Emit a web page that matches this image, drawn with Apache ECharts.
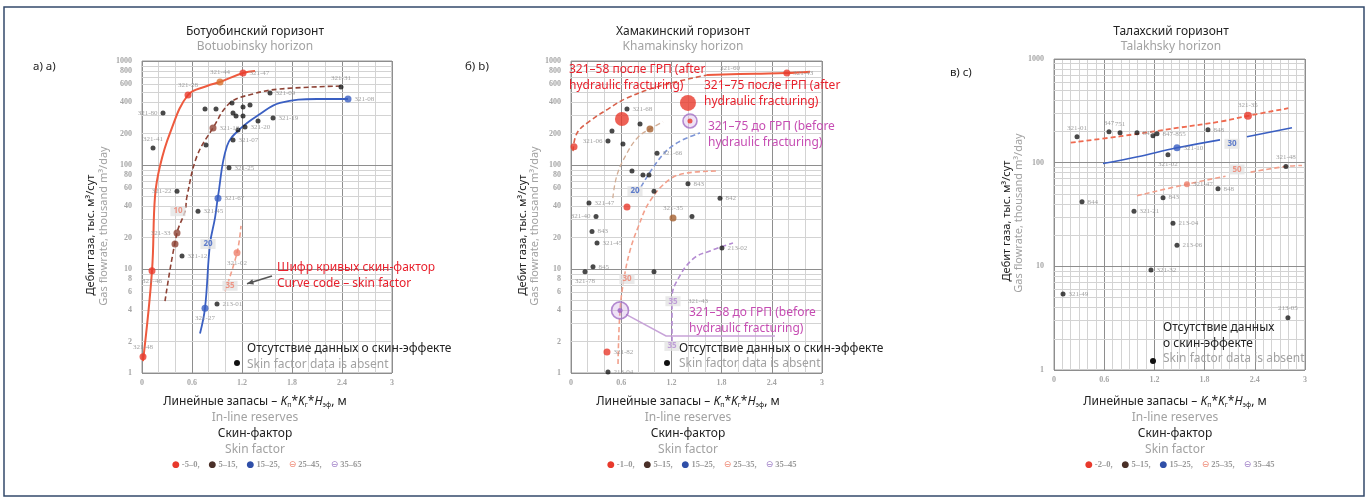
<!DOCTYPE html>
<html lang="ru">
<head>
<meta charset="utf-8">
<title>Дебит газа и линейные запасы</title>
<script src="https://cdn.jsdelivr.net/npm/echarts@6.0.0/dist/echarts.min.js"></script>
<style>
html,body{margin:0;padding:0;background:#fff;}
#chart{width:1368px;height:502px;}
</style>
</head>
<body>
<div id="chart"></div>
<script>
// ---------- shared axis definitions ----------
const xTickLabels = [0, 0.6, 1.2, 1.8, 2.4, 3];
const yGridLines = [1,2,3,4,5,6,7,8,9,10,20,30,40,50,60,70,80,90,100,200,300,400,500,600,700,800,900,1000];
const yDecades = [1, 10, 100, 1000];
const yLabelsDense = [1,2,4,6,8,10,20,40,60,80,100,200,400,600,800,1000];
const yLabelsSparse = [1, 10, 100, 1000];

// ---------- Ботуобинский горизонт ----------
const botCurveRed = [[0.012,1.3],[0.12,9.6],[0.156,50],[0.216,98],[0.336,203],[0.552,471],[0.78,575],[0.936,628],[1.212,767],[1.356,801]];
const botCurveBrown = [[0.276,4.9],[0.42,22.2],[0.516,36],[0.54,50],[0.66,122],[0.852,227],[1.056,395],[1.332,482],[1.656,538],[2.412,575]];
const botCurveBlue = [[0.696,2.4],[0.756,4.2],[0.816,17.4],[0.876,31],[0.912,50],[1.02,152],[1.176,222],[1.416,309],[1.656,395],[2.1,431],[2.472,431]];
const botCurveSalmon = [[0.996,6.1],[1.14,14.3],[1.188,26]];
const botWells = [
  [0.252,316,'321-80'],[0.132,146,'321-41'],[0.756,345,''],[0.888,345,''],[1.08,395,''],
  [1.212,361,''],[1.296,378,''],[1.092,316,''],[1.128,296,''],[1.212,296,''],
  [1.536,493,'321-09'],[1.572,283,'321-19'],[1.392,265,''],[1.236,232,'321-20'],[1.152,217,''],
  [1.092,174,'321-07'],[0.768,156,''],[1.044,94,'321-25'],[0.42,56,'321-22'],[0.672,36,'321-45'],
  [0.48,13.3,'321-12'],[0.9,4.6,'213-01'],[2.388,562,'321-31']
];
const botRedPts = [[1.212,767,'321-47'],[0.552,471,'321-28'],[0.12,9.6,'321-46'],[0.012,1.43,'321-48']];
const botOrangePts = [[0.936,628,'321-44']];
const botBrownPts = [[0.852,227,'321-16'],[0.42,22.2,'321-33'],[0.396,17.4,'']];
const botBluePts = [[0.912,48,'321-67'],[0.756,4.2,'321-27'],[2.472,431,'321-08']];
const botSalmonPts = [[1.14,14.3,'321-02']];
const botCodes = [[0.432,36,'10'],[0.792,17.4,'20'],[1.056,6.9,'35']];

// ---------- Хамакинский горизонт ----------
const khaCurveRedDashed = [[0.024,136],[0.072,203],[0.227,265],[0.442,345],[0.669,441],[1.064,575],[1.626,733]];
const khaCurveRedSolid = [[1.626,733],[2.2,755],[2.58,767],[2.856,790]];
const khaCurveSalmon = [[0.562,1.22],[0.586,4.0],[0.633,8],[0.705,15],[0.8,25],[0.944,45],[1.183,73],[1.4,84],[1.745,87.5]];
const khaCurveBlue = [[0.789,53],[1.064,117],[1.267,163],[1.542,203]];
const khaCurveBrown = [[0.5,48],[0.55,80],[0.669,130],[0.8,185],[0.944,222],[1.1,260]];
const khaCurvePurple = [[1.207,2.0],[1.207,5.3],[1.267,7.7],[1.458,12.5],[1.661,14.9],[1.936,17.8]];
const khaWells = [
  [0.669,345,'321-68'],[0.825,248,''],[0.49,212,''],[0.442,170,'321-06'],[0.621,159,''],
  [1.028,130,'321-66'],[0.729,87.5,''],[0.86,80,''],[0.932,80,''],[0.992,56,''],
  [0.215,43,'321-47'],[1.781,48,'842'],[1.398,66,'843'],[0.299,32,'321-40'],[0.251,23,'843'],
  [0.311,17.8,'321-45'],[0.263,10.5,'845'],[0.167,9.4,'321-78'],[0.992,9.4,''],[1.446,32,''],
  [1.804,15.9,'213-02'],[0.442,1.02,'213-04']
];
const khaRedPts = [[2.58,767,'321-43'],[0.669,39.5,''],[0.43,1.59,'321-82'],[0.036,150,'']];
const khaFracPts = [[0.609,277],[1.398,395]];          // после ГРП
const khaBeforePts = [[1.422,265],[0.586,4.0]];         // до ГРП
const khaBrownPts = [[0.944,222,''],[1.219,31,'321-35']];
const khaCodes = [[0.765,56,'20'],[0.669,8,'30'],[1.219,4.9,'35'],[1.207,1.82,'35']];
const khaFreeLabels = [[1.9,857,'321-60'],[1.518,4.9,'321-43']];

// ---------- Талахский горизонт ----------
const talCurveRed = [[0.2,156],[0.8,180],[1.5,218],[2.0,250],[2.318,283],[2.8,335]];
const talCurveBlueA = [[0.586,98],[1.0,114],[1.47,139],[1.984,166]];
const talCurveBlueB = [[2.306,178],[2.844,217]];
const talCurveSalmonA = [[0.992,48],[1.589,62],[2.05,74]];
const talCurveSalmonB = [[2.35,81],[2.772,92],[2.964,94]];
const talWells = [
  [0.275,178,'321-01'],[0.657,199,'847'],[0.789,194,'751'],[0.992,194,'845'],[1.183,182,''],
  [1.231,190,'847-855'],[1.84,208,'848'],[1.362,119,'321-02'],[2.772,92,'321-48'],[1.96,56,'848'],
  [0.335,42,'844'],[1.303,46,'843'],[0.956,34,'321-21'],[1.422,26,'213-04'],[1.47,16,'213-06'],
  [1.159,9.2,'321-32'],[0.108,5.4,'321-49'],[2.796,3.2,'213-05']
];
const talRedPts = [[2.318,283,'321-35']];
const talBluePts = [[1.47,139,'321-10']];
const talSalmonPts = [[1.589,62,'321-47']];
const talCodes = [[2.127,152,'30'],[2.187,86,'50']];

// ---------- text ----------
const panelTitles = ['Ботуобинский горизонт', 'Хамакинский горизонт', 'Талахский горизонт'];
const panelTitlesEn = ['Botuobinsky horizon', 'Khamakinsky horizon', 'Talakhsky horizon'];
const panelTags = ['а) a)', 'б) b)', 'в) c)'];
const skinLegends = [
  [['-5–0','r'],['5–15','k'],['15–25','b'],['25–45','s'],['35–65','p']],
  [['-1–0','r'],['5–15','k'],['15–25','b'],['25–35','s'],['35–45','p']],
  [['-2–0','r'],['5–15','k'],['15–25','b'],['25–35','s'],['35–45','p']]
];

// ---------- styles ----------
const FONT = '"Noto Sans", "DejaVu Sans", sans-serif';
const WELL_FONT = '"Liberation Serif", serif';
const COL = {
  red: '#e8392c', redLine: '#ee5a3e', brown: '#8e4336', blue: '#3a5fc2',
  salmon: '#f2a08c', salmonText: '#ee7e6a', purple: '#b48bd2', magenta: '#c64db3',
  annRed: '#e8202c', dark: '#222222', gray: '#a2a2a2', well: '#1c1c1c'
};
const GRIDS = [
  { left: 142, top: 61, width: 250, height: 312 },
  { left: 571, top: 61, width: 251, height: 312 },
  { left: 1054, top: 59, width: 251, height: 311 }
];
const labelSide = {
  '321-80':'left','321-41':'top','321-22':'left','321-27':'bottom','321-33':'left','321-28':'top',
  '321-44':'top','321-31':'top','321-46':'bottom','321-47':'right','321-40':'left','321-78':'bottom',
  '321-06':'left','213-05':'top','321-48':'top','321-60':'top','321-01':'top','847':'top','751':'top',
  '847-855':'right','321-35':'top','321-02':'bottom','321-68':'right','321-45':'right'
};

function curve(g, pts, color, dashed, width) {
  return { type: 'line', xAxisIndex: g, yAxisIndex: g, data: pts, smooth: 0.4, symbol: 'none',
    silent: true, z: 3, lineStyle: { color, width: width || 1.6, type: dashed ? [5, 3] : 'solid' } };
}
function points(g, rows, color, size, extra) {
  return Object.assign({
    type: 'scatter', xAxisIndex: g, yAxisIndex: g, symbol: 'circle', symbolSize: size, silent: true, z: 5,
    itemStyle: { color },
    data: rows.map(r => ({ value: [r[0], r[1]], name: r[2] || '', label: { position: labelSide[r[2]] || 'right' } })),
    label: { show: true, formatter: '{b}', fontSize: 7, color: '#8a8a8a', fontFamily: WELL_FONT, distance: 3 }
  }, extra || {});
}
function codes(g, rows, colors) {
  return { type: 'scatter', xAxisIndex: g, yAxisIndex: g, symbolSize: 0, silent: true, z: 6,
    data: rows.map((r, i) => ({ value: [r[0], r[1]], name: r[2], label: { color: colors[i] } })),
    label: { show: true, position: 'inside', formatter: '{b}', fontSize: 8, fontWeight: 'bold', fontFamily: FONT,
      backgroundColor: 'rgba(226,226,226,0.95)', padding: [1, 3] } };
}
function freeLabels(g, rows) {
  return { type: 'scatter', xAxisIndex: g, yAxisIndex: g, symbolSize: 0, silent: true, z: 6,
    data: rows.map(r => ({ value: [r[0], r[1]], name: r[2] })),
    label: { show: true, position: 'inside', formatter: '{b}', fontSize: 7, color: '#8a8a8a', fontFamily: WELL_FONT } };
}
function gridLines(g, labelled) {
  return { type: 'line', xAxisIndex: g, yAxisIndex: g, data: [[0, 1]], symbol: 'none', silent: true,
    lineStyle: { opacity: 0 }, z: 1,
    markLine: { silent: true, symbol: ['none', 'none'], animation: false, z: 1,
      data: yGridLines.map(v => ({
        yAxis: v,
        lineStyle: { type: 'solid', width: 1, color: yDecades.includes(v) ? '#8e8e8e' : '#d3d3d3' },
        label: labelled.includes(v)
          ? { show: true, position: 'start', formatter: String(v), color: '#a6a6a6', fontSize: 8,
              fontWeight: 'bold', fontFamily: WELL_FONT, distance: 10 }
          : { show: false }
      })) } };
}

const xAxes = GRIDS.map((g, i) => ({
  type: 'value', gridIndex: i, min: 0, max: 3, interval: 0.6,
  axisLine: { show: false }, axisTick: { show: false },
  axisLabel: { color: '#a6a6a6', fontSize: 8, fontWeight: 'bold', fontFamily: WELL_FONT, margin: 6,
    formatter: v => { const t = xTickLabels.find(k => Math.abs(k - v) < 1e-6); return t === undefined ? '' : String(t); } },
  splitLine: { show: true, lineStyle: { color: '#8e8e8e', width: 1 } },
  minorTick: { show: false, splitNumber: i === 2 ? 6 : 3 },
  minorSplitLine: { show: true, lineStyle: { color: '#d3d3d3', width: 1 } }
}));
const yAxes = GRIDS.map((g, i) => ({
  type: 'log', gridIndex: i, logBase: 10, min: 1, max: 1000,
  axisLine: { show: false }, axisTick: { show: false }, axisLabel: { show: false }, splitLine: { show: false }
}));

const series = [
  gridLines(0, yLabelsDense), gridLines(1, yLabelsDense), gridLines(2, yLabelsSparse),

  curve(0, botCurveRed, COL.redLine, false, 2),
  curve(0, botCurveBrown, COL.brown, true),
  curve(0, botCurveBlue, COL.blue, false, 1.8),
  curve(0, botCurveSalmon, COL.salmon, true),
  points(0, botWells, COL.well, 5),
  points(0, botRedPts, COL.red, 7),
  points(0, botOrangePts, '#d9722f', 7),
  points(0, botBrownPts, COL.brown, 7),
  points(0, botBluePts, COL.blue, 7),
  points(0, botSalmonPts, COL.salmonText, 7),
  codes(0, botCodes, [COL.salmonText, COL.blue, COL.salmonText]),

  curve(1, khaCurveRedDashed, '#d9604a', true),
  curve(1, khaCurveRedSolid, COL.redLine, false, 2),
  curve(1, khaCurveSalmon, COL.salmon, true),
  curve(1, khaCurveBlue, '#7d95d6', true),
  curve(1, khaCurveBrown, '#d2ad95', true, 1.3),
  curve(1, khaCurvePurple, COL.purple, true),
  points(1, khaWells, COL.well, 5),
  points(1, khaRedPts, COL.red, 7),
  points(1, khaBrownPts, '#a5602f', 7),
  { type: 'scatter', xAxisIndex: 1, yAxisIndex: 1, data: khaBeforePts, symbol: 'circle', silent: true, z: 5,
    symbolSize: (v, p) => p.dataIndex === 0 ? 14 : 17,
    itemStyle: { color: 'rgba(196,150,222,0.35)', borderColor: '#a36fc6', borderWidth: 1.6 } },
  { type: 'scatter', xAxisIndex: 1, yAxisIndex: 1, data: khaBeforePts, symbol: 'circle', symbolSize: 5, silent: true, z: 6,
    itemStyle: { color: p => p.dataIndex === 0 ? COL.red : '#9b5cc0' } },
  { type: 'scatter', xAxisIndex: 1, yAxisIndex: 1, data: khaFracPts, symbol: 'circle', silent: true, z: 6,
    symbolSize: (v, p) => p.dataIndex === 0 ? 14 : 16, itemStyle: { color: COL.red } },
  codes(1, khaCodes, [COL.blue, COL.salmonText, COL.purple, COL.purple]),
  freeLabels(1, khaFreeLabels),

  curve(2, talCurveRed, '#ef6a50', true, 1.8),
  curve(2, talCurveBlueA, COL.blue, false, 1.6),
  curve(2, talCurveBlueB, COL.blue, false, 1.6),
  curve(2, talCurveSalmonA, COL.salmon, true),
  curve(2, talCurveSalmonB, COL.salmon, true),
  points(2, talWells, COL.well, 5),
  points(2, talRedPts, COL.red, 8),
  points(2, talBluePts, COL.blue, 7),
  points(2, talSalmonPts, COL.salmonText, 6),
  codes(2, talCodes, [COL.blue, COL.salmonText])
];

const chart = echarts.init(document.getElementById('chart'));
chart.setOption({
  animation: false,
  backgroundColor: '#ffffff',
  grid: GRIDS.map(g => Object.assign({ show: true, borderColor: '#9a9a9a', borderWidth: 1, backgroundColor: '#ffffff' }, g)),
  xAxis: xAxes,
  yAxis: yAxes,
  series
});

// ---------- text layer ----------
function text(x, y, str, opt) {
  return { type: 'text', x, y, silent: true, z: 20,
    style: Object.assign({ text: str, fill: COL.dark, fontSize: 12, fontFamily: FONT, align: 'left', verticalAlign: 'middle' }, opt || {}) };
}
const titleCx = [255, 683, 1171];
const axisCx = [255, 688, 1175];
const yTitle = [[91, 235, 104, 226], [523, 235, 535, 226], [1007, 221, 1019, 213]];
const tagPos = [[33, 67], [465, 67], [950, 73]];
const legendLeft = [172, 607, 1085];

const iconStyle = (c) => ({ fill: c, fontSize: 9, fontFamily: '"DejaVu Sans"', padding: [0, 2, 0, 0] });
const richLegend = {
  r: iconStyle(COL.red),
  k: iconStyle('#4a3028'),
  b: iconStyle('#2f4fa8'),
  s: iconStyle('#ef8a76'),
  p: iconStyle('#a080c8'),
  t: { fill: '#9a9a9a', fontSize: 8.5, fontFamily: WELL_FONT, fontWeight: 'bold' },
  c: { fill: '#9a9a9a', fontSize: 8.5, fontFamily: WELL_FONT, fontWeight: 'bold', padding: [0, 9, 0, 0] }
};
const richAxis = {
  i: { fill: COL.dark, fontSize: 12, fontStyle: 'italic', fontFamily: FONT },
  s: { fill: COL.dark, fontSize: 7, fontFamily: FONT, verticalAlign: 'bottom', padding: [6, 0, 0, 0] },
  n: { fill: COL.dark, fontSize: 12, fontFamily: FONT }
};

const graphics = [
  { type: 'rect', silent: true, z: 30, shape: { x: 4, y: 7, width: 1360, height: 489 },
    style: { fill: 'none', stroke: '#33496b', lineWidth: 1.5 } }
];
for (let i = 0; i < 3; i++) {
  graphics.push(text(titleCx[i], 32, panelTitles[i], { align: 'center' }));
  graphics.push(text(titleCx[i], 47, panelTitlesEn[i], { align: 'center', fill: COL.gray }));
  graphics.push(text(tagPos[i][0], tagPos[i][1], panelTags[i], { fontSize: 11.5 }));
  graphics.push(Object.assign(text(yTitle[i][0], yTitle[i][1], 'Дебит газа, тыс. м³/сут', { align: 'center', fontSize: 11 }), { rotation: Math.PI / 2 }));
  graphics.push(Object.assign(text(yTitle[i][2], yTitle[i][3], 'Gas flowrate, thousand m³/day', { align: 'center', fontSize: 11, fill: COL.gray }), { rotation: Math.PI / 2 }));
  graphics.push(text(axisCx[i], 402, '{n|Линейные запасы – }{i|K}{s|п}{n|*}{i|K}{s|г}{n|*}{i|H}{s|эф}{n|, м}', { align: 'center', rich: richAxis }));
  graphics.push(text(axisCx[i], 418, 'In-line reserves', { align: 'center', fill: COL.gray }));
  graphics.push(text(axisCx[i], 434, 'Скин-фактор', { align: 'center' }));
  graphics.push(text(axisCx[i], 450, 'Skin factor', { align: 'center', fill: COL.gray }));
  const lg = skinLegends[i].map(([t, k]) => `{${k}|${k === 's' || k === 'p' ? '⊖' : '●'}}{t|${t}}`).join('{c|,}');
  graphics.push(text(legendLeft[i], 465, lg, { rich: richLegend }));
}

// Легенда «нет данных о скин-эффекте»
const absent = [[237, 363, 247, 349, 365, false], [667, 363, 679, 349, 364, false], [1153, 361, 1163, 328, 359, true]];
absent.forEach(([dx, dy, tx, ty, ey, twoLines]) => {
  graphics.push({ type: 'circle', silent: true, z: 20, shape: { cx: dx, cy: dy, r: 3 }, style: { fill: '#111' } });
  if (twoLines) {
    graphics.push(text(tx, ty, 'Отсутствие данных'));
    graphics.push(text(tx, ty + 16, 'о скин-эффекте'));
  } else {
    graphics.push(text(tx, ty, 'Отсутствие данных о скин-эффекте'));
  }
  graphics.push(text(tx, ey, 'Skin factor data is absent', { fill: COL.gray }));
});

// Шифр кривых
graphics.push(text(277, 268, 'Шифр кривых скин-фактор', { fill: COL.annRed }));
graphics.push(text(277, 284, 'Curve code – skin factor', { fill: COL.annRed }));
const codePx = chart.convertToPixel({ gridIndex: 0 }, [botCodes[2][0], botCodes[2][1]]);
const tip = [codePx[0] + 17, codePx[1] - 2];
const tail = [272, 276];
const ang = Math.atan2(tip[1] - tail[1], tip[0] - tail[0]);
graphics.push({ type: 'line', silent: true, z: 20, shape: { x1: tail[0], y1: tail[1], x2: tip[0], y2: tip[1] },
  style: { stroke: '#555', lineWidth: 1.6 } });
graphics.push({ type: 'polygon', silent: true, z: 20,
  shape: { points: [tip,
    [tip[0] - 7 * Math.cos(ang - 0.4), tip[1] - 7 * Math.sin(ang - 0.4)],
    [tip[0] - 7 * Math.cos(ang + 0.4), tip[1] - 7 * Math.sin(ang + 0.4)]] },
  style: { fill: '#555' } });

// ГРП
graphics.push(text(569, 70, '321–58 после ГРП (after', { fill: COL.annRed }));
graphics.push(text(569, 86, 'hydraulic fracturing)', { fill: COL.annRed }));
graphics.push(text(704, 86, '321–75 после ГРП (after', { fill: COL.annRed }));
graphics.push(text(704, 102, 'hydraulic fracturing)', { fill: COL.annRed }));
graphics.push(text(708, 127, '321–75 до ГРП (before', { fill: COL.magenta }));
graphics.push(text(708, 143, 'hydraulic fracturing)', { fill: COL.magenta }));
graphics.push(text(689, 313, '321–58 до ГРП (before', { fill: COL.magenta }));
graphics.push(text(689, 329, 'hydraulic fracturing)', { fill: COL.magenta }));
const ringPx = chart.convertToPixel({ gridIndex: 1 }, khaBeforePts[1]);
graphics.push({ type: 'polyline', silent: true, z: 4,
  shape: { points: [[ringPx[0] + 6, ringPx[1] + 4], [666, 336], [775, 336]] },
  style: { stroke: '#c7a3d8', lineWidth: 1.5, fill: 'none' } });

chart.setOption({ graphic: graphics });
</script>
</body>
</html>
